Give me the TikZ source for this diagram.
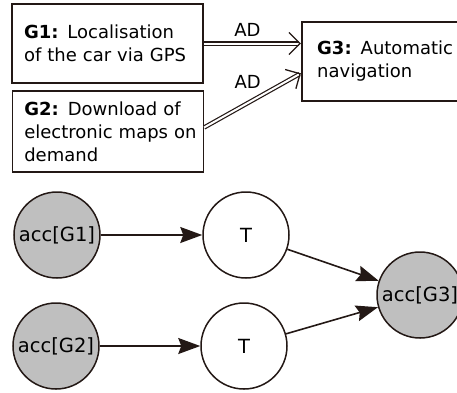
\documentclass[tikz,border=0pt]{standalone}
\usepackage{fontspec}
\setmainfont{DejaVu Sans}
\usetikzlibrary{arrows.meta}
\definecolor{edgecol}{HTML}{231815}

\begin{document}
\begin{tikzpicture}[x=1pt,y=-1pt,
    every node/.style={font=\fontsize{18}{23}\selectfont},
    goalbox/.style = {draw=edgecol, line width=1.6pt, align=left, inner xsep=12pt,
                      minimum height=79pt, text width=167pt},
    accnode/.style = {circle, draw=edgecol, line width=1.5pt, fill=black!25, minimum size=86pt,
                      inner sep=0pt, font=\fontsize{19.5}{23}\selectfont},
    tnode/.style   = {accnode, fill=white},
    andref/.style  = {draw=edgecol, line width=1.2pt, double, double distance=2pt,
                      -{Straight Barb[length=11pt,width=22pt,line width=1.3pt]}},
    flow/.style    = {draw=edgecol, line width=1.6pt, -{Stealth[length=22pt,width=16pt,inset=3pt]}},
  ]
  \useasboundingbox (0,0) rectangle (457,392);

  % goals
  \node[goalbox] (G1) at (107.5,43.5) {\textbf{G1:} Localisation\\\mbox{of the car via GPS}};
  \node[goalbox, minimum height=81pt] (G2) at (107.8,131.5) {\textbf{G2:} Download of\\\mbox{electronic maps on}\\demand};
  \node[goalbox, text width=140pt, inner xsep=15.5pt] (G3) at (387.2,61.3) {\textbf{G3:} Automatic\\navigation};

  \draw[andref] (G1.east) -- (G1.east -| G3.west) node[pos=0.45, above=3pt] {AD};
  \draw[andref] ([yshift=4pt]G2.east) -- ([yshift=-12pt]G3.west) node[pos=0.45, above=11pt] {AD};
  % end of goals

  % acceptance nodes
  \node[accnode] (accG1) at (57,235) {acc[G1]};
  \node[accnode] (accG2) at (56,346) {acc[G2]};
  \node[tnode]   (T1)    at (246,235) {T};
  \node[tnode]   (T2)    at (244,346) {T};
  \node[accnode] (accG3) at (420,295) {acc[G3]};

  \draw[flow] (accG1) -- (T1);
  \draw[flow] (accG2) -- (T2);
  \draw[flow] (T1) -- (accG3);
  \draw[flow] (T2) -- (accG3);
  % end of acceptance nodes
\end{tikzpicture}
\end{document}
